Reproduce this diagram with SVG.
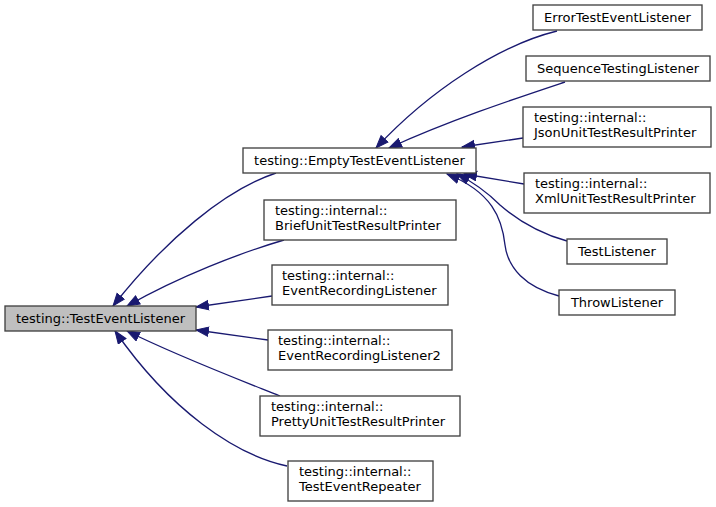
<svg xmlns="http://www.w3.org/2000/svg" width="716" height="507" viewBox="0 0 716 507">
<style>
.n rect{fill:#fff;stroke:#404040;stroke-width:1.33}
.n.root rect{fill:#bfbfbf}
text{font-family:"DejaVu Sans",sans-serif;font-size:13px;fill:#000}
.c{text-anchor:middle}
.e path{fill:none;stroke:#191970;stroke-width:1.33;marker-end:url(#ah)}
</style>
<defs>
<marker id="ah" markerUnits="userSpaceOnUse" markerWidth="15" markerHeight="12" refX="13" refY="5.5" orient="auto">
<path d="M0.5,0.8 L13,5.5 L0.5,10.2 z" fill="#191970" stroke="#191970" stroke-width="1"/>
</marker>
</defs>
<rect width="716" height="507" fill="#fff"/>
<g class="e">
<path d="M276,173 C225,190 165,240 113,306"/>
<path d="M284,240 C240,253 180,276 127,306"/>
<path d="M272,296 L196,307"/>
<path d="M268,340 L196,330"/>
<path d="M280,396 C240,380 175,355 127,331"/>
<path d="M287,466 C235,455 170,410 115,331"/>
<path d="M557,31 C500,45 430,90 376,148"/>
<path d="M565,82 C520,97 450,120 389,148"/>
<path d="M523,138 L462,147"/>
<path d="M524,184 L464,174"/>
<path d="M567,241 C535,232 515,218 500,205 C488,193 475,183 457,174"/>
<path d="M559,296 C525,287 508,268 505,245 C502,218 492,192 447,174"/>
</g>
<g id="node-TestEventListener" class="n root"><rect x="5" y="306" width="191" height="25"/><text class="c" x="100.5" y="323">testing::TestEventListener</text></g>
<g id="node-EmptyTestEventListener" class="n"><rect x="243" y="148" width="233" height="25"/><text class="c" x="359.5" y="165">testing::EmptyTestEventListener</text></g>
<g id="node-BriefUnitTestResultPrinter" class="n"><rect x="264" y="200" width="192" height="40"/><text x="275" y="215">testing::internal::</text><text x="275" y="230">BriefUnitTestResultPrinter</text></g>
<g id="node-EventRecordingListener" class="n"><rect x="272" y="265" width="176" height="40"/><text x="282" y="280">testing::internal::</text><text x="282" y="295">EventRecordingListener</text></g>
<g id="node-EventRecordingListener2" class="n"><rect x="268" y="330" width="184" height="40"/><text x="278" y="345">testing::internal::</text><text x="278" y="360">EventRecordingListener2</text></g>
<g id="node-PrettyUnitTestResultPrinter" class="n"><rect x="260" y="396" width="200" height="40"/><text x="271" y="411">testing::internal::</text><text x="271" y="426">PrettyUnitTestResultPrinter</text></g>
<g id="node-TestEventRepeater" class="n"><rect x="288" y="461" width="145" height="40"/><text x="299" y="476">testing::internal::</text><text x="299" y="491">TestEventRepeater</text></g>
<g id="node-ErrorTestEventListener" class="n"><rect x="533" y="5" width="169" height="25"/><text class="c" x="617.5" y="22">ErrorTestEventListener</text></g>
<g id="node-SequenceTestingListener" class="n"><rect x="526" y="56" width="184" height="25"/><text class="c" x="618" y="73">SequenceTestingListener</text></g>
<g id="node-JsonUnitTestResultPrinter" class="n"><rect x="523" y="107" width="188" height="40"/><text x="534" y="122">testing::internal::</text><text x="534" y="137">JsonUnitTestResultPrinter</text></g>
<g id="node-XmlUnitTestResultPrinter" class="n"><rect x="524" y="173" width="186" height="40"/><text x="535" y="188">testing::internal::</text><text x="535" y="203">XmlUnitTestResultPrinter</text></g>
<g id="node-TestListener" class="n"><rect x="567" y="239" width="100" height="25"/><text class="c" x="617" y="256">TestListener</text></g>
<g id="node-ThrowListener" class="n"><rect x="559" y="290" width="116" height="25"/><text class="c" x="617" y="307">ThrowListener</text></g>
</svg>
